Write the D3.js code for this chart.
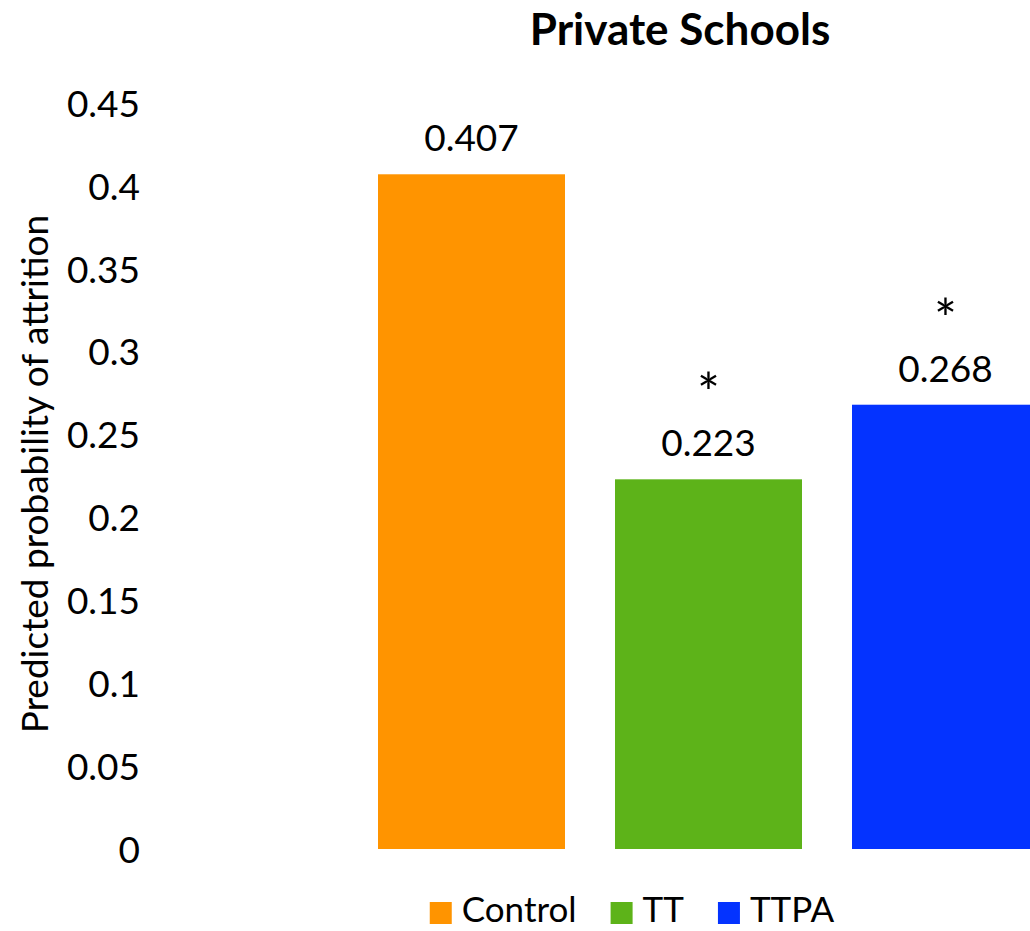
<!DOCTYPE html>
<html>
<head>
    <title>Private Schools</title>
    <script src="https://d3js.org/d3.v7.min.js"></script>
    <style>
        body { margin: 0; background: #fff; }
        svg { display: block; }
        text { font-family: Lato, "Open Sans", sans-serif; fill: #000; }
    </style>
</head>
<body>
<svg width="1030" height="931"></svg>
<script>
    // chart values
    let groups = ['Control', 'TT', 'TTPA'];
    let probs = [0.407, 0.223, 0.268];
    let stars = ['', '*', '*'];
    let colors = ['#ff9400', '#5db319', '#0433ff'];
    let yTicks = [0, 0.05, 0.1, 0.15, 0.2, 0.25, 0.3, 0.35, 0.4, 0.45];

    let svg = d3.select('svg');
    let plotTop = 103, plotBottom = 849;

    let x = d3.scaleBand()
                .domain(groups)
                .range([353, 1064])
                .paddingInner(0.211)
                .paddingOuter(0.1055);
    let y = d3.scaleLinear()
                .domain([0, 0.45])
                .range([plotBottom, plotTop]);

    // title
    svg.append('text')
        .attr('x', 680)
        .attr('y', 45)
        .attr('text-anchor', 'middle')
        .style('font-size', '44px')
        .style('font-weight', 'bold')
        .text('Private Schools');

    // y axis (labels only, no line)
    let yAxis = svg.append('g')
        .attr('transform', 'translate(140,0)')
        .call(d3.axisLeft(y).tickValues(yTicks).tickSize(0).tickPadding(0).tickFormat(d => String(+d.toFixed(2))));
    yAxis.select('.domain').remove();
    yAxis.selectAll('text')
        .style('font-size', '37px')
        .style('font-family', 'Lato, sans-serif')
        .attr('dy', '0.36em');

    svg.append('text')
        .attr('transform', `translate(48, ${(plotTop + plotBottom) / 2 - 2}) rotate(-90)`)
        .attr('text-anchor', 'middle')
        .style('font-size', '37px')
        .text('Predicted probability of attrition');

    // bars
    svg.selectAll('.bar')
        .data(groups)
        .join('rect')
        .attr('class', 'bar')
        .attr('x', d => x(d))
        .attr('y', (d, i) => y(probs[i]))
        .attr('width', x.bandwidth())
        .attr('height', (d, i) => plotBottom - y(probs[i]))
        .attr('fill', (d, i) => colors[i]);

    svg.selectAll('.val')
        .data(groups)
        .join('text')
        .attr('class', 'val')
        .attr('x', d => x(d) + x.bandwidth() / 2)
        .attr('y', (d, i) => y(probs[i]) - 23)
        .attr('text-anchor', 'middle')
        .style('font-size', '37px')
        .text((d, i) => probs[i].toFixed(3));

    svg.selectAll('.star')
        .data(groups)
        .join('text')
        .attr('class', 'star')
        .attr('x', d => x(d) + x.bandwidth() / 2)
        .attr('y', (d, i) => y(probs[i]) - 67)
        .attr('text-anchor', 'middle')
        .style('font-size', '54px')
        .text((d, i) => stars[i]);

    // legend
    let legend = svg.append('g');
    let lx = 0;
    groups.forEach((g, i) => {
        let item = legend.append('g').attr('transform', `translate(${lx},0)`);
        item.append('rect')
            .attr('x', 0).attr('y', 902)
            .attr('width', 22).attr('height', 22)
            .attr('fill', colors[i]);
        let t = item.append('text')
            .attr('x', 32).attr('y', 922)
            .style('font-size', '35px')
            .text(g);
        lx += 32 + t.node().getComputedTextLength() + 34;
    });
    let lw = lx - 34;
    legend.attr('transform', `translate(${632 - lw / 2},0)`);
</script>
</body>
</html>
